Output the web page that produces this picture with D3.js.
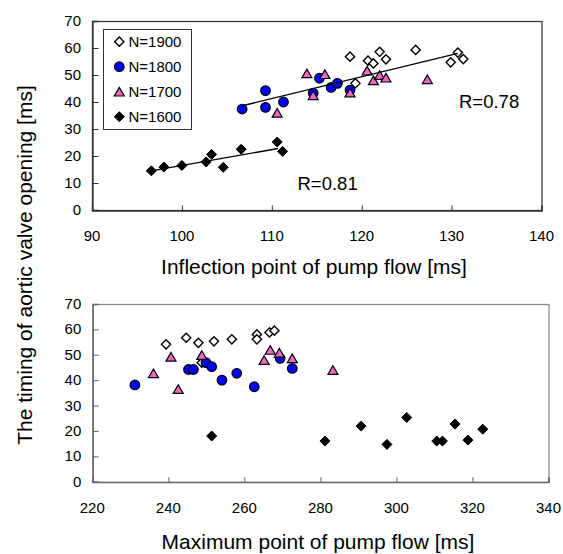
<!DOCTYPE html>
<html>
<head>
<meta charset="utf-8">
<script src="https://cdn.jsdelivr.net/npm/d3@7"></script>
<style>
  body { margin: 0; background: #fff; }
  text { font-family: "Liberation Sans", Arial, sans-serif; fill: #000; }
</style>
</head>
<body>
<div id="chart"></div>
<script>
// series names and legend order
var seriesNames = ["N=1900", "N=1800", "N=1700", "N=1600"];

// top panel: inflection point of pump flow [ms] vs aortic valve opening [ms]
var topN1900 = [[118.7,56.8],[119.3,46.9],[120.7,55.3],[121.3,54.3],[122,58.6],[122.7,55.8],[126,59.3],[129.9,54.7],[130.7,58.3],[131.3,55.9]];
var topN1800 = [[106.7,37.4],[109.3,44.2],[109.3,38.0],[111.3,40.0],[114.6,43.3],[115.3,48.8],[116.6,45.4],[117.3,46.9],[118.7,44.4]];
var topN1700 = [[110.6,36.0],[113.9,50.6],[114.6,42.5],[115.9,50.3],[118.7,43.5],[120.6,51.6],[121.3,48.0],[122,50.0],[122.7,49.0],[127.3,48.4]];
var topN1600 = [[96.6,14.5],[98,15.9],[100,16.5],[102.7,17.8],[103.3,20.6],[104.6,15.8],[106.6,22.5],[110.6,25.2],[111.2,21.7]];
// trend lines (end points)
var trendHigh = [[106.7,38.6],[130.7,58.0]];
var trendLow = [[96.6,14.5],[110.7,22.8]];
var rLabels = ["R=0.78", "R=0.81"];

// bottom panel: maximum point of pump flow [ms]
var botN1900 = [[239.4,54.1],[244.7,56.7],[247.9,54.7],[248.8,46.9],[252,55.3],[256.7,56.1],[263.3,58.0],[263.3,56.1],[266.6,58.8],[267.9,59.5]];
var botN1800 = [[231.2,38.1],[245.3,44.2],[246.6,44.2],[249.9,46.9],[251.4,45.3],[254.1,40.0],[258,42.7],[262.6,37.4],[269.4,48.6],[272.6,44.6]];
var botN1700 = [[236.1,42.7],[240.7,49.2],[242.6,36.5],[248.8,49.9],[265.2,47.9],[266.8,51.9],[269.2,50.8],[272.6,48.6],[283.3,44.0]];
var botN1600 = [[251.4,18.0],[281.2,16.0],[290.7,21.9],[297.5,14.7],[302.7,25.3],[310.6,16.0],[312.1,16.0],[315.4,22.7],[318.8,16.4],[322.7,20.7]];

// axis ticks
var yTicks = [0,10,20,30,40,50,60,70];
var topXTicks = [90,100,110,120,130,140];
var botXTicks = [220,240,260,280,300,320,340];

var width = 563, height = 554;
var svg = d3.select("#chart").append("svg")
    .attr("width", width)
    .attr("height", height);

// marker shapes
var circlePath = d3.symbol().type(d3.symbolCircle).size(72)();
var diamondPath = "M0,-4.6L4.6,0L0,4.6L-4.6,0Z";
var bigDiamondPath = "M0,-5L5,0L0,5L-5,0Z";
var trianglePath = "M0,-4.3L5,4.3L-5,4.3Z";

var markerStyles = {
  "N=1900": {d: diamondPath, fill: "#fff", stroke: "#000", sw: 1.4},
  "N=1800": {d: circlePath, fill: "#0000ff", stroke: "#000", sw: 1.2},
  "N=1700": {d: trianglePath, fill: "#f266c4", stroke: "#000", sw: 1.2},
  "N=1600": {d: bigDiamondPath, fill: "#000", stroke: "#000", sw: 1}
};

function drawMarkers(g, data, name, x, y) {
  var st = markerStyles[name];
  g.selectAll(null)
    .data(data)
    .enter()
    .append("path")
      .attr("d", st.d)
      .attr("transform", function(d) { return "translate(" + x(d[0]) + "," + y(d[1]) + ")"; })
      .attr("fill", st.fill)
      .attr("stroke", st.stroke)
      .attr("stroke-width", st.sw)
      .attr("stroke-linejoin", "miter");
}

function drawPanel(opts) {
  var x = d3.scaleLinear().domain(opts.xDomain).range([opts.left, opts.right]);
  var y = d3.scaleLinear().domain([0, 70]).range([opts.bottom, opts.top]);
  var g = svg.append("g");

  // frame
  g.append("rect")
    .attr("x", opts.left + 0.5).attr("y", opts.top + 0.5)
    .attr("width", opts.right - opts.left).attr("height", opts.bottom - opts.top)
    .attr("fill", "none")
    .attr("stroke", opts.frameColor)
    .attr("stroke-width", 1.3);

  // y axis, ticks point inward
  var yAxis = g.append("g")
    .attr("transform", "translate(" + (opts.left + 0.5) + ",0)")
    .call(d3.axisRight(y).tickValues(yTicks).tickSize(6).tickFormat(""));
  yAxis.select(".domain").attr("stroke", opts.axisColor).attr("stroke-width", 1.3);
  yAxis.selectAll(".tick line").attr("stroke", opts.axisColor);

  // x axis, ticks point up
  var xAxis = g.append("g")
    .attr("transform", "translate(0," + (opts.bottom + 0.5) + ")")
    .call(d3.axisTop(x).tickValues(opts.xTicks).tickSize(5).tickFormat(""));
  xAxis.select(".domain").attr("stroke", opts.axisColor).attr("stroke-width", 1.3);
  xAxis.selectAll(".tick line").attr("stroke", opts.axisColor);

  // tick labels
  g.selectAll(null).data(yTicks).enter().append("text")
    .attr("x", opts.left - 11)
    .attr("y", function(d) { return y(d) + 5; })
    .attr("text-anchor", "end")
    .style("font-size", "15px")
    .text(function(d) { return d; });
  g.selectAll(null).data(opts.xTicks).enter().append("text")
    .attr("x", function(d) { return x(d); })
    .attr("y", opts.xLabelY)
    .attr("text-anchor", "middle")
    .style("font-size", "15px")
    .text(function(d) { return d; });

  // axis title
  g.append("text")
    .attr("x", opts.titleX)
    .attr("y", opts.titleY)
    .attr("text-anchor", "middle")
    .style("font-size", "21px")
    .text(opts.title);

  // markers, back to front like the original
  drawMarkers(g, opts.series[0], "N=1900", x, y);
  drawMarkers(g, opts.series[1], "N=1800", x, y);
  drawMarkers(g, opts.series[2], "N=1700", x, y);
  drawMarkers(g, opts.series[3], "N=1600", x, y);

  return {x: x, y: y, g: g};
}

// ---- top panel ----
var topP = drawPanel({
  left: 92, right: 541.5, top: 21, bottom: 210,
  xDomain: [90, 140], xTicks: topXTicks, xLabelY: 241,
  frameColor: "#3c3c3c", axisColor: "#333",
  title: "Inflection point of pump flow [ms]", titleX: 314, titleY: 274,
  series: [topN1900, topN1800, topN1700, topN1600]
});

var line = d3.line()
    .x(function(d) { return topP.x(d[0]); })
    .y(function(d) { return topP.y(d[1]); });
topP.g.append("path").attr("d", line(trendHigh))
    .attr("fill", "none").attr("stroke", "#000").attr("stroke-width", 1.4);
topP.g.append("path").attr("d", line(trendLow))
    .attr("fill", "none").attr("stroke", "#000").attr("stroke-width", 1.4);

topP.g.append("text").attr("x", 459).attr("y", 107.5)
    .style("font-size", "18.5px").text(rLabels[0]);
topP.g.append("text").attr("x", 297.5).attr("y", 190)
    .style("font-size", "18.5px").text(rLabels[1]);

// legend
var legend = topP.g.append("g");
legend.append("rect")
    .attr("x", 103.5).attr("y", 29.5).attr("width", 88).attr("height", 100)
    .attr("fill", "#fff").attr("stroke", "#333").attr("stroke-width", 1);
seriesNames.forEach(function(name, i) {
  var st = markerStyles[name];
  var cy = 41.7 + i * 25;
  legend.append("path")
    .attr("d", st.d)
    .attr("transform", "translate(119.3," + cy + ")")
    .attr("fill", st.fill).attr("stroke", st.stroke).attr("stroke-width", st.sw);
  legend.append("text")
    .attr("x", 128.5).attr("y", cy + 5.5)
    .style("font-size", "15px")
    .text(name);
});

// ---- bottom panel ----
drawPanel({
  left: 92.3, right: 548.5, top: 304, bottom: 481.7,
  xDomain: [220, 340], xTicks: botXTicks, xLabelY: 512.5,
  frameColor: "#8a8a8a", axisColor: "#666",
  title: "Maximum point of pump flow [ms]", titleX: 318, titleY: 549,
  series: [botN1900, botN1800, botN1700, botN1600]
});

// shared y title
svg.append("text")
    .attr("transform", "translate(32,265) rotate(-90)")
    .attr("text-anchor", "middle")
    .style("font-size", "21px")
    .text("The timing of aortic valve opening  [ms]");
</script>
</body>
</html>
